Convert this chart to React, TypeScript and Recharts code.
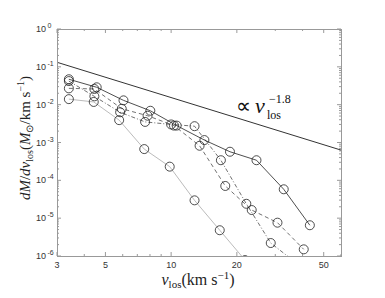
import { LineChart, Line, XAxis, YAxis } from "recharts";

// (log-log)
const solidX = [3.4, 4.56, 6.05, 8.03, 10.6, 14.2, 18.6, 24.6, 32.8, 43.2];
const solidY = [0.047, 0.0288, 0.013, 0.0069, 0.0028, 0.00116, 5.7e-4, 3.4e-4, 5.8e-5, 6.5e-6];

const dashedX = [3.4, 4.45, 5.94, 7.8, 10.3, 13.5, 17.7, 23.4, 30.7, 40.5];
const dashedY = [0.027, 0.026, 0.0078, 0.0051, 0.0028, 8.2e-4, 7.1e-5, 1.64e-5, 7.6e-6, 1.5e-6];

const dashDotX = [3.4, 4.45, 5.84, 7.6, 10.0, 12.8, 16.9, 22.1, 28.6, 37.5];
const dashDotY = [0.042, 0.0166, 0.0063, 0.0035, 0.003, 0.0027, 3.4e-4, 2.4e-5, 2.2e-6, 6.5e-7];

const grayX = [3.4, 4.42, 5.78, 7.53, 9.85, 12.8, 16.7, 21.8];
const grayY = [0.014, 0.0118, 0.0039, 6.7e-4, 2.3e-4, 2.96e-5, 4.8e-6, 7.8e-7];

const powerX = [3, 60];
const powerY = [0.132, 6.3e-4];

const xTicks = [3, 4, 5, 6, 7, 8, 9, 10, 20, 30, 40, 50, 60];
const xLabels = [3, 5, 10, 20, 50];
const yDecades = [-6, -5, -4, -3, -2, -1, 0];

const yTicks: number[] = [];
yDecades.forEach((e) => {
  for (let m = 1; m <= 9; m++) {
    const v = m * Math.pow(10, e);
    if (v <= 1) yTicks.push(v);
  }
});

const pts = (xs: number[], ys: number[]) => xs.map((x, i) => ({ x, y: ys[i] }));

const W = 385;
const H = 298;
const LEFT = 57;
const TOP = 29;
const PW = 284;
const PH = 227;
const TICK = "#555";
const LABEL = "#333";

const XTick = (props: any) => {
  const { x, y, payload } = props;
  const v = payload.value;
  const major = xLabels.includes(v);
  const len = major ? 4 : 2;
  return (
    <g>
      <line x1={x} x2={x} y1={y} y2={y - len} stroke={TICK} strokeWidth={0.6} />
      <line x1={x} x2={x} y1={y - PH} y2={y - PH + len} stroke={TICK} strokeWidth={0.6} />
      {major && (
        <text x={x} y={y + 12} textAnchor="middle" fontSize={9} fill={LABEL} fontFamily="Liberation Sans, Arial, sans-serif">
          {v}
        </text>
      )}
    </g>
  );
};

const YTick = (props: any) => {
  const { x, y, payload } = props;
  const lg = Math.log10(payload.value);
  const e = Math.round(lg);
  const major = Math.abs(lg - e) < 1e-6;
  const len = major ? 4 : 2;
  return (
    <g>
      <line x1={x} x2={x + len} y1={y} y2={y} stroke={TICK} strokeWidth={0.6} />
      <line x1={x + PW} x2={x + PW - len} y1={y} y2={y} stroke={TICK} strokeWidth={0.6} />
      {major && (
        <text x={36} y={y + 3} fontSize={9} fill={LABEL} fontFamily="Liberation Sans, Arial, sans-serif">
          10
          <tspan dx={1.5} dy={-4} fontSize={7}>
            {e === 0 ? "0" : "-" + Math.abs(e)}
          </tspan>
        </text>
      )}
    </g>
  );
};

const dot = { r: 4.5, stroke: "#222", strokeWidth: 0.8, fill: "none", strokeDasharray: "none" };

export default function App() {
  return (
    <div style={{ position: "absolute", left: 0, top: 0, width: W, height: H, background: "#fff" }}>
      <LineChart
        width={W}
        height={H}
        margin={{ top: TOP, right: W - LEFT - PW, bottom: 0, left: 0 }}
      >
        <XAxis
          dataKey="x"
          type="number"
          scale="log"
          domain={[3, 60]}
          allowDataOverflow
          ticks={xTicks}
          interval={0}
          height={H - TOP - PH}
          tickSize={0}
          tickMargin={0}
          axisLine={false}
          tick={XTick}
        />
        <YAxis
          type="number"
          scale="log"
          domain={[1e-6, 1]}
          allowDataOverflow
          ticks={yTicks}
          interval={0}
          width={LEFT}
          tickSize={0}
          tickMargin={0}
          axisLine={false}
          tick={YTick}
        />
        <Line data={pts(powerX, powerY)} dataKey="y" stroke="#333" strokeWidth={1} dot={false} isAnimationActive={false} />
        <Line data={pts(grayX, grayY)} dataKey="y" stroke="#aaa" strokeWidth={0.8} dot={dot} isAnimationActive={false} />
        <Line data={pts(dashDotX, dashDotY)} dataKey="y" stroke="#333" strokeWidth={0.7} strokeDasharray="4 2 1 2" dot={dot} isAnimationActive={false} />
        <Line data={pts(dashedX, dashedY)} dataKey="y" stroke="#333" strokeWidth={0.7} strokeDasharray="4 3" dot={dot} isAnimationActive={false} />
        <Line data={pts(solidX, solidY)} dataKey="y" stroke="#222" strokeWidth={0.8} dot={dot} isAnimationActive={false} />
      </LineChart>
      <svg width={W} height={H} style={{ position: "absolute", left: 0, top: 0, pointerEvents: "none" }}>
        <rect x={LEFT + 0.5} y={TOP + 0.5} width={PW} height={PH} fill="none" stroke="#999" strokeWidth={1} />
        <text y={113} fontFamily="Liberation Serif, serif" fill="#111">
          <tspan x={236} fontSize={21}>∝</tspan>
          <tspan x={255} fontSize={22} fontStyle="italic">v</tspan>
          <tspan x={267} y={119} fontSize={12}>los</tspan>
          <tspan x={269} y={103} fontSize={12}>−1.8</tspan>
        </text>
        <text x={198} y={285} textAnchor="middle" fontSize={16} fontFamily="Liberation Serif, serif" fill="#222">
          <tspan fontStyle="italic">v</tspan>
          <tspan fontSize={11} dy={3}>los</tspan>
          <tspan dy={-3}>(km s</tspan>
          <tspan fontSize={11} dy={-6}>−1</tspan>
          <tspan dy={6}>)</tspan>
        </text>
        <text transform="translate(30,138) rotate(-90)" textAnchor="middle" fontSize={15} fontFamily="Liberation Serif, serif" fill="#222">
          <tspan fontStyle="italic">dM</tspan>
          <tspan>/</tspan>
          <tspan fontStyle="italic">dv</tspan>
          <tspan fontSize={10} dy={3}>los</tspan>
          <tspan dy={-3}>(</tspan>
          <tspan fontStyle="italic">M</tspan>
          <tspan fontSize={10} dy={3}>⊙</tspan>
          <tspan dy={-3}>/km s</tspan>
          <tspan fontSize={10} dy={-6}>−1</tspan>
          <tspan dy={6}>)</tspan>
        </text>
      </svg>
    </div>
  );
}
